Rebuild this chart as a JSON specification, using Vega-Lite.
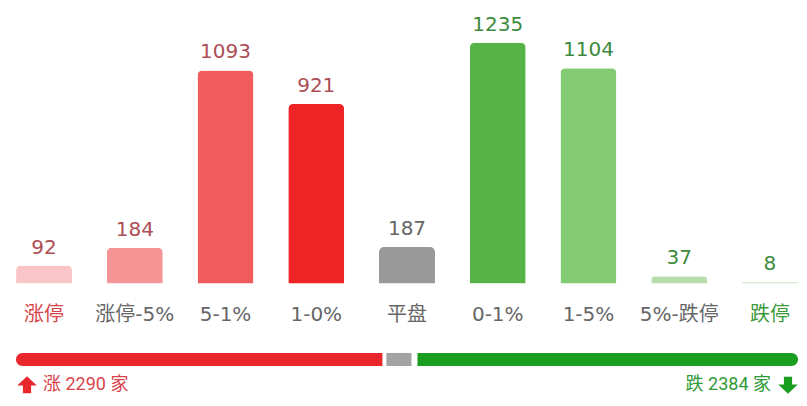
{
  "$schema": "https://vega.github.io/schema/vega-lite/v6.json",
  "width": 800,
  "height": 406,
  "autosize": {"type": "none"},
  "padding": {"left": 7, "top": 0, "right": 0, "bottom": 0},
  "background": "white",
  "config": {"view": {"stroke": null}, "font": "Roboto, Noto Sans CJK SC"},
  "datasets": {
    "bars": [
      {"cat": "涨停", "count": 92, "group": "up"},
      {"cat": "涨停-5%", "count": 184, "group": "up"},
      {"cat": "5-1%", "count": 1093, "group": "up"},
      {"cat": "1-0%", "count": 921, "group": "up"},
      {"cat": "平盘", "count": 187, "group": "flat"},
      {"cat": "0-1%", "count": 1235, "group": "down"},
      {"cat": "1-5%", "count": 1104, "group": "down"},
      {"cat": "5%-跌停", "count": 37, "group": "down"},
      {"cat": "跌停", "count": 8, "group": "down"}
    ],
    "totals": [
      {"seg": "up", "count": 2290, "label": "涨 2290 家"},
      {"seg": "flat", "count": 187, "label": ""},
      {"seg": "down", "count": 2384, "label": "跌 2384 家"}
    ]
  },
  "resolve": {"scale": {"x": "independent", "color": "independent"}},
  "layer": [
    {
      "data": {"name": "bars"},
      "resolve": {"scale": {"color": "independent"}},
      "encoding": {
        "x": {
          "field": "cat",
          "type": "nominal",
          "sort": null,
          "scale": {"paddingInner": 0.383, "paddingOuter": 0.1},
          "axis": null
        }
      },
      "layer": [
        {
          "mark": {"type": "bar", "cornerRadiusTopLeft": 5, "cornerRadiusTopRight": 5},
          "encoding": {
            "y": {
              "field": "count",
              "type": "quantitative",
              "scale": {"domain": [-628, 1454], "nice": false, "zero": false},
              "axis": null
            },
            "color": {
              "field": "cat",
              "type": "nominal",
              "scale": {
                "domain": ["涨停", "涨停-5%", "5-1%", "1-0%", "平盘", "0-1%", "1-5%", "5%-跌停", "跌停"],
                "range": ["#f9c5c6", "#f59495", "#f25b5c", "#ee2325", "#999999", "#56b447", "#83cb73", "#b6deab", "#d6ecd1"]
              },
              "legend": null
            }
          }
        },
        {
          "mark": {"type": "text", "baseline": "alphabetic", "dy": -12, "fontSize": 20, "font": "DejaVu Sans"},
          "encoding": {
            "y": {"field": "count", "type": "quantitative"},
            "text": {"field": "count", "type": "quantitative"},
            "color": {
              "field": "group",
              "type": "nominal",
              "scale": {"domain": ["up", "flat", "down"], "range": ["#ad4d55", "#666666", "#3d8a3d"]},
              "legend": null
            }
          }
        },
        {
          "mark": {"type": "text", "baseline": "middle", "fontSize": 20, "font": "DejaVu Sans, Noto Sans CJK SC"},
          "encoding": {
            "y": {"datum": -163},
            "text": {"field": "cat"},
            "color": {
              "condition": [
                {"test": "datum.cat === '涨停'", "value": "#d9434a"},
                {"test": "datum.cat === '跌停'", "value": "#3a9a3a"}
              ],
              "value": "#666666"
            }
          }
        }
      ]
    },
    {
      "data": {"name": "totals"},
      "transform": [
        {"stack": "count", "groupby": [], "as": ["x0", "x1"], "sort": [{"field": "seg", "order": "descending"}]}
      ],
      "encoding": {
        "x": {"field": "x0", "type": "quantitative", "scale": {"domain": [-56, 4917], "nice": false, "zero": false}, "axis": null}
      },
      "layer": [
        {
          "transform": [{"filter": "datum.seg === 'up'"}],
          "mark": {"type": "bar", "color": "#e8262b", "cornerRadiusTopLeft": 6.5, "cornerRadiusBottomLeft": 6.5, "x2Offset": -2},
          "encoding": {"x2": {"field": "x1"}, "y": {"datum": -356}, "y2": {"datum": -423}}
        },
        {
          "transform": [{"filter": "datum.seg === 'flat'"}],
          "mark": {"type": "bar", "color": "#a3a3a3", "xOffset": 2, "x2Offset": -3},
          "encoding": {"x2": {"field": "x1"}, "y": {"datum": -356}, "y2": {"datum": -423}}
        },
        {
          "transform": [{"filter": "datum.seg === 'down'"}],
          "mark": {"type": "bar", "color": "#1a9e1f", "cornerRadiusTopRight": 6.5, "cornerRadiusBottomRight": 6.5, "xOffset": 3},
          "encoding": {"x2": {"field": "x1"}, "y": {"datum": -356}, "y2": {"datum": -423}}
        },
        {
          "transform": [{"filter": "datum.seg === 'up'"}],
          "mark": {"type": "text", "align": "left", "baseline": "middle", "dx": 27, "fontSize": 18, "color": "#d9434a"},
          "encoding": {"x": {"datum": 0}, "y": {"datum": -520}, "text": {"field": "label"}}
        },
        {
          "transform": [{"filter": "datum.seg === 'down'"}],
          "mark": {"type": "text", "align": "right", "baseline": "middle", "dx": -27, "fontSize": 18, "color": "#2f9a37"},
          "encoding": {"x": {"datum": 4861}, "y": {"datum": -520}, "text": {"field": "label"}}
        },
        {
          "transform": [{"filter": "datum.seg === 'up'"}],
          "mark": {"type": "point", "filled": true, "opacity": 1, "size": 380, "color": "#e8262b", "xOffset": 11, "shape": "M0,-0.9 L1,0.05 L0.42,0.05 L0.42,0.85 L-0.42,0.85 L-0.42,0.05 L-1,0.05 Z"},
          "encoding": {"x": {"datum": 0}, "y": {"datum": -520}}
        },
        {
          "transform": [{"filter": "datum.seg === 'down'"}],
          "mark": {"type": "point", "filled": true, "opacity": 1, "size": 380, "color": "#1a9e1f", "xOffset": -10, "shape": "M0,0.9 L1,-0.05 L0.42,-0.05 L0.42,-0.85 L-0.42,-0.85 L-0.42,-0.05 L-1,-0.05 Z"},
          "encoding": {"x": {"datum": 4861}, "y": {"datum": -520}}
        }
      ]
    }
  ]
}
